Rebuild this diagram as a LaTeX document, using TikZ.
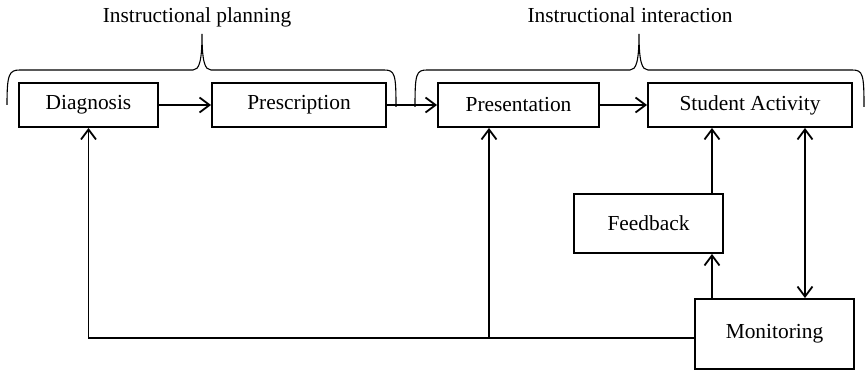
\documentclass[tikz,border=0pt]{standalone}
\usepackage{fontspec}
\setmainfont{Liberation Serif}
\usetikzlibrary{arrows.meta}
\tikzset{
  box/.style={draw, line width=1.9pt, minimum height=44pt, inner sep=0pt, font=\fontsize{21.4}{25}\selectfont},
  lbl/.style={font=\fontsize{21.4}{25}\selectfont, anchor=base, inner sep=0pt},
  conn/.style={line width=1.9pt},
  arr/.style={conn, -{Straight Barb[length=10pt,width=15pt,line width=1.8pt]}},
  darr/.style={conn, {Straight Barb[length=10pt,width=15pt,line width=1.8pt]}-{Straight Barb[length=10pt,width=15pt,line width=1.8pt]}},
  brace/.style={line width=1.1pt}
}
\begin{document}
\begin{tikzpicture}[x=1pt, y=-1pt]
\useasboundingbox (0,0) rectangle (867,371);
% boxes
\node[box, minimum width=139pt] (diag) at (88.5,105) {Diagnosis};
\node[box, minimum width=174pt] (presc) at (299,105) {Prescription};
\node[box, minimum width=161pt] (pres) at (518.5,105) {Presentation};
\node[box, minimum width=204pt] (stud) at (750,105) {Student Activity};
\node[box, minimum width=149pt, minimum height=59pt] (feed) at (648.5,223.5) {Feedback};
\node[box, minimum width=159pt, minimum height=70pt] (mon) at (774.5,334) {Monitoring};
% labels
\node[lbl] (lplan) at (197,23) {Instructional planning};
\node[lbl] (linter) at (630,23) {Instructional interaction};
% braces
\draw[brace] (7,105) .. controls (7,74) and (9,70) .. (20,70)
  -- (193,70) .. controls (199,70) and (202,62) .. (202,34)
  .. controls (202,62) and (205,70) .. (211,70)
  -- (384,70) .. controls (395,70) and (396,74) .. (396,107);
\draw[brace] (415,107) .. controls (415,74) and (416,70) .. (427,70)
  -- (630,70) .. controls (636,70) and (639,62) .. (639,34)
  .. controls (639,62) and (642,70) .. (648,70)
  -- (852,70) .. controls (863,70) and (864,74) .. (864,107);
% connectors
\draw[arr] (diag) -- (presc);
\draw[arr] (presc) -- (pres);
\draw[arr] (pres) -- (stud);
\coordinate (fx) at (712,0);
\coordinate (dx) at (805,0);
\coordinate (j) at (489,338);
\draw[arr] (feed.north -| fx) -- (stud.south -| fx);
\draw[arr] (mon.north -| fx) -- (feed.south -| fx);
\draw[darr] (stud.south -| dx) -- (mon.north -| dx);
\draw[conn] (mon.west |- j) -- (j);
\draw[arr] (j) -| (diag.south);
\draw[arr] (j) -- (j |- pres.south);
\end{tikzpicture}
\end{document}
